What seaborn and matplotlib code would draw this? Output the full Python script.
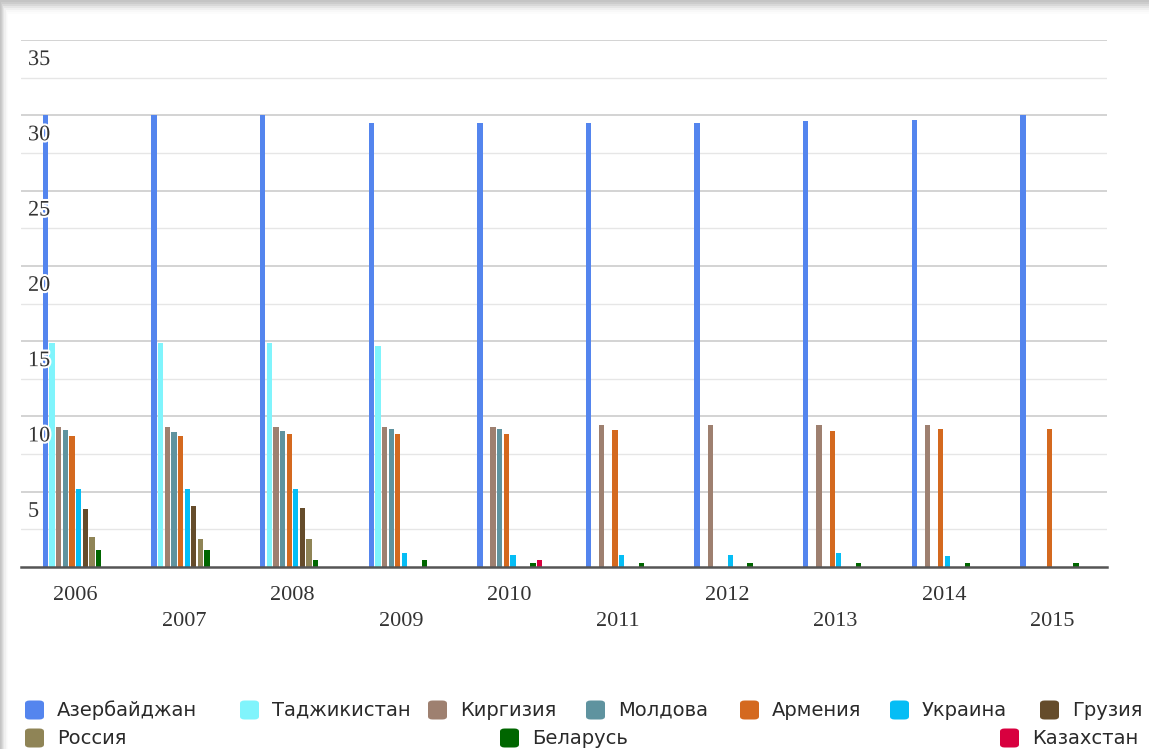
import numpy as np
import pandas as pd
import matplotlib
matplotlib.use("Agg")
import matplotlib.pyplot as plt
import matplotlib.patheffects as pe
import seaborn as sns
from matplotlib.patches import FancyBboxPatch, Rectangle
from matplotlib.ticker import MultipleLocator
from matplotlib.transforms import ScaledTranslation

nan = np.nan

years = ['2006', '2007', '2008', '2009', '2010', '2011', '2012', '2013', '2014', '2015']
countries = ['Азербайджан', 'Таджикистан', 'Киргизия', 'Молдова', 'Армения',
             'Украина', 'Грузия', 'Россия', 'Беларусь', 'Казахстан']
colors = ['#5485ee', '#80f4fc', '#9e8070', '#5f939f', '#d4691f',
          '#05bdf5', '#654c2b', '#8f8456', '#006600', '#d8003f']
y_ticks = [5, 10, 15, 20, 25, 30, 35]

azerbaijan = [30.0, 30.0, 30.0, 29.5, 29.5, 29.5, 29.5, 29.6, 29.7, 30.0]
tajikistan = [14.9, 14.9, 14.9, 14.7, nan, nan, nan, nan, nan, nan]
kyrgyzstan = [9.3, 9.3, 9.3, 9.3, 9.3, 9.4, 9.4, 9.4, 9.4, nan]
moldova = [9.1, 8.95, 9.05, 9.15, 9.15, nan, nan, nan, nan, nan]
armenia = [8.7, 8.7, 8.8, 8.8, 8.8, 9.1, nan, 9.05, 9.15, 9.15]
ukraine = [5.2, 5.2, 5.2, 0.9, 0.8, 0.8, 0.8, 0.9, 0.7, nan]
georgia = [3.85, 4.05, 3.95, nan, nan, nan, nan, nan, nan, nan]
russia = [2.0, 1.85, 1.85, nan, nan, nan, nan, nan, nan, nan]
belarus = [1.15, 1.15, 0.45, 0.45, 0.25, 0.25, 0.25, 0.25, 0.25, 0.25]
kazakhstan = [nan, nan, nan, nan, 0.45, nan, nan, nan, nan, nan]

series = [azerbaijan, tajikistan, kyrgyzstan, moldova, armenia,
          ukraine, georgia, russia, belarus, kazakhstan]

rows = []
for country, vals in zip(countries, series):
    for year, v in zip(years, vals):
        rows.append({'year': year, 'country': country, 'value': v})
df = pd.DataFrame(rows).dropna()

sns.set_style("white")
W, H = 1149, 749
fig = plt.figure(figsize=(W / 100, H / 100), dpi=100)
fig.patch.set_facecolor('#c4c4c4')

# soft shadow + white card
for i, a in enumerate([0.15, 0.25, 0.35, 0.45, 0.55, 0.7]):
    d = 12 - 2 * i
    fig.patches.append(Rectangle(((8 - d * 0.6) / W, 0), 1, (H - 14 + d) / H,
                                 transform=fig.transFigure, facecolor='white',
                                 alpha=a, edgecolor='none', zorder=-2))
fig.patches.append(Rectangle((8 / W, 0), 1, (H - 14) / H, transform=fig.transFigure,
                             facecolor='white', edgecolor='none', zorder=-1))

ax = fig.add_axes([21 / W, 182 / H, 1086 / W, 527 / H])
ax.set_facecolor('none')
ax.set_zorder(1)

sns.barplot(ax=ax, data=df, x='year', y='value', hue='country',
            order=years, hue_order=countries, palette=dict(zip(countries, colors)),
            width=0.61, gap=0.2, errorbar=None, linewidth=0, saturation=1,
            legend=False)

ax.set_ylim(0, 35)
ax.set_xlim(-0.5, 9.5)
ax.set_yticks(y_ticks)
ax.yaxis.set_minor_locator(MultipleLocator(2.5))
ax.grid(axis='y', which='major', color='#cccccc', lw=1.2, zorder=0)
ax.grid(axis='y', which='minor', color='#e6e6e6', lw=1.0, zorder=0)
ax.set_axisbelow(True)
ax.tick_params(axis='y', which='both', length=0, labelleft=False)
ax.tick_params(axis='x', length=0, pad=14)
for s in ['top', 'right', 'left']:
    ax.spines[s].set_visible(False)
ax.spines['bottom'].set_color('#555555')
ax.spines['bottom'].set_linewidth(1.8)

ax.set_xlabel('')
ax.set_ylabel('')
ax.set_xticks(range(len(years)))
ax.set_xticklabels([y if i % 2 == 0 else '\n' + y for i, y in enumerate(years)],
                   fontsize=16, family='Liberation Serif', color='#333333',
                   va='top', linespacing=1.5)

# y labels sit inside the plot, just under their grid line, over the bars
ytrans = ax.get_yaxis_transform() + ScaledTranslation(7 / 100, -11 / 100, fig.dpi_scale_trans)
for v in y_ticks:
    ax.text(0, v, str(v), transform=ytrans, ha='left', va='top', fontsize=16,
            family='Liberation Serif', color='#333333', zorder=5,
            path_effects=[pe.withStroke(linewidth=3, foreground='white')])

# legend, laid out like the original two rows
leg_x = [25, 240, 428, 586, 740, 890, 1040, 25, 500, 1000]
leg_y = [710, 710, 710, 710, 710, 710, 710, 738, 738, 738]
s = 19
for name, c, x, y in zip(countries, colors, leg_x, leg_y):
    fig.patches.append(FancyBboxPatch((x / W, (H - y - s / 2) / H), s / W, s / H,
                                      boxstyle="round,pad=0,rounding_size=0.004",
                                      transform=fig.transFigure, facecolor=c,
                                      edgecolor='none', zorder=3))
    fig.text((x + s + 13) / W, (H - y) / H, name, fontsize=14, family='DejaVu Sans',
             color='#2a2a2a', va='center', ha='left')

fig.savefig('out.png', dpi=100, facecolor=fig.get_facecolor())
